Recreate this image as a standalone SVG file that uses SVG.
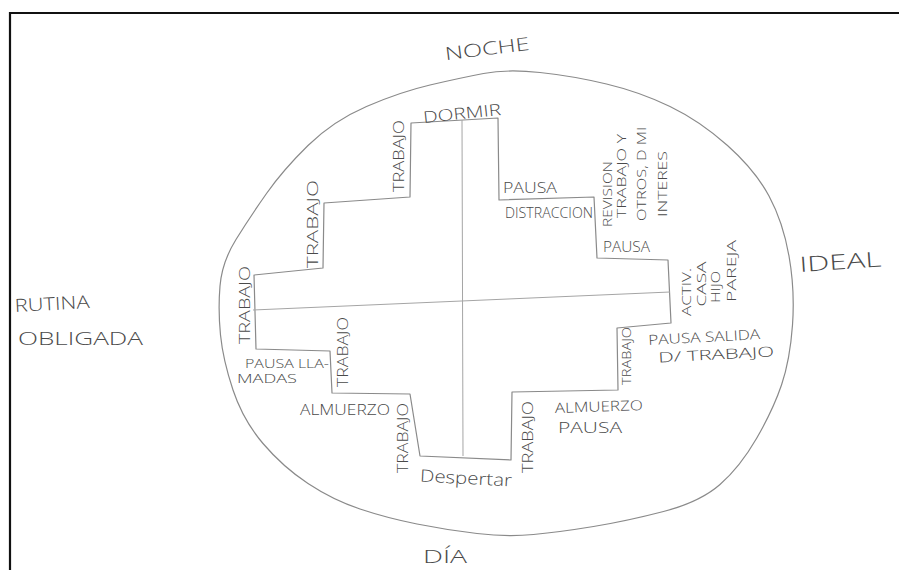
<svg xmlns="http://www.w3.org/2000/svg" width="899" height="570" viewBox="0 0 899 570">
<style>
.frame{fill:none;stroke:#111;stroke-width:2.2}
.ln{fill:none;stroke:#8a8a8a;stroke-width:1.2;stroke-linejoin:round;stroke-linecap:round}
.thin{fill:none;stroke:#a5a5a5;stroke-width:1}
text{font-family:"Open Sans","Liberation Sans",sans-serif;font-weight:300;fill:#4a4a4a}
.h{font-size:14px}
.s{font-size:12px}
.v{font-size:15px;text-anchor:middle;dominant-baseline:central}
.vs{font-size:13px;text-anchor:middle;dominant-baseline:central}
.big{font-size:18px}
</style>
<rect width="899" height="570" fill="#fff"/>
<path class="frame" d="M10,570 L10,13 L899,13"/>
<g id="connectors">
<path id="oval" class="ln" d="M483.5,73.5 Q507,69 540,72.5 Q573,76 606.5,84 Q640,92 670,106.5 Q700,121 727.5,145.5 Q755,170 769,196 Q783,222 789,256 Q795,290 792.5,325 Q790,360 781.5,385 Q773,410 756.5,438.5 Q740,467 720,484.5 Q700,502 663.5,511.5 Q627,521 593.5,526.5 Q560,532 533.5,534.5 Q507,537 477,533.5 Q447,530 417,524 Q387,518 360,509 Q333,500 308,483.5 Q283,467 263,443.5 Q243,420 233,390 Q223,360 220.5,335 Q218,310 220,286 Q222,262 236,239.5 Q250,217 266.5,193.5 Q283,170 308,145.5 Q333,121 366.5,106.5 Q400,92 430,85 Q460,78 483.5,73.5 Z"/>
<path id="cross" class="ln" d="M411,123 L498,118 L499,200 L594,197 L597,258 L668,260 L671,323 L617,328 L618,390 L512,392 L511,460 L420,456 L410,394 L332,393 L330,351 L256,349 L254,275 L323,268 L324,203 L410,197 Z"/>
<path id="axis-v" class="thin" d="M462,120 L463,456"/>
<path id="axis-h" class="thin" d="M253,310 L670,292"/>
</g>
<g id="noche"><text class="big" x="487" y="55" text-anchor="middle" textLength="85" lengthAdjust="spacingAndGlyphs" transform="rotate(-7 487 48)">NOCHE</text></g>
<g id="dia"><text class="big" x="423" y="563" textLength="44" lengthAdjust="spacingAndGlyphs">DÍA</text></g>
<g id="rutina"><text class="big" x="15" y="312" textLength="75" lengthAdjust="spacingAndGlyphs" transform="rotate(-3 15 312)">RUTINA</text><text style="font-size:19px" x="18" y="345" textLength="125" lengthAdjust="spacingAndGlyphs">OBLIGADA</text></g>
<g id="ideal"><text style="font-size:21px" x="800" y="272" textLength="82" lengthAdjust="spacingAndGlyphs" transform="rotate(-4 800 272)">IDEAL</text></g>
<g id="dormir"><text style="font-size:16px" x="462" y="119" text-anchor="middle" textLength="78" lengthAdjust="spacingAndGlyphs" transform="rotate(-6 462 113)">DORMIR</text></g>
<g id="despertar"><text style="font-size:17px" x="466" y="484" text-anchor="middle" textLength="92" lengthAdjust="spacingAndGlyphs" transform="rotate(3 466 478)">Despertar</text></g>
<g id="trabajo-1"><text class="v" transform="translate(398,156) rotate(-90)" textLength="72" lengthAdjust="spacingAndGlyphs">TRABAJO</text></g>
<g id="trabajo-2"><text class="v" transform="translate(312,224) rotate(-90)" textLength="88" lengthAdjust="spacingAndGlyphs">TRABAJO</text></g>
<g id="trabajo-3"><text class="v" transform="translate(244,305) rotate(-90)" textLength="78" lengthAdjust="spacingAndGlyphs">TRABAJO</text></g>
<g id="trabajo-4"><text class="v" transform="translate(342,352) rotate(-90)" textLength="70" lengthAdjust="spacingAndGlyphs">TRABAJO</text></g>
<g id="trabajo-5"><text class="v" transform="translate(402,438) rotate(-90)" textLength="70" lengthAdjust="spacingAndGlyphs">TRABAJO</text></g>
<g id="trabajo-6"><text class="v" transform="translate(527,437) rotate(-90)" textLength="72" lengthAdjust="spacingAndGlyphs">TRABAJO</text></g>
<g id="trabajo-7"><text class="vs" transform="translate(626,356) rotate(-90)" textLength="58" lengthAdjust="spacingAndGlyphs">TRABAJO</text></g>
<g id="pausa-llamadas"><text class="s" x="245" y="368" textLength="84" lengthAdjust="spacingAndGlyphs">PAUSA LLA-</text><text class="s" x="237" y="383" textLength="60" lengthAdjust="spacingAndGlyphs">MADAS</text></g>
<g id="almuerzo-1"><text class="h" x="300" y="415" textLength="90" lengthAdjust="spacingAndGlyphs">ALMUERZO</text></g>
<g id="almuerzo-pausa"><text class="h" x="555" y="413" textLength="88" lengthAdjust="spacingAndGlyphs" transform="rotate(-2 555 413)">ALMUERZO</text><text class="h" x="558" y="433" textLength="64" lengthAdjust="spacingAndGlyphs">PAUSA</text></g>
<g id="pausa-salida"><text class="h" x="648" y="342" textLength="112" lengthAdjust="spacingAndGlyphs" transform="rotate(-3 704 334)">PAUSA SALIDA</text><text class="h" x="657" y="360" textLength="116" lengthAdjust="spacingAndGlyphs" transform="rotate(-3 704 334)">D/ TRABAJO</text></g>
<g id="actividades"><text class="vs" transform="translate(686,292) rotate(-90)" textLength="48" lengthAdjust="spacingAndGlyphs">ACTIV.</text><text class="vs" transform="translate(701,284) rotate(-90)" textLength="45" lengthAdjust="spacingAndGlyphs">CASA</text><text class="vs" transform="translate(715,287) rotate(-90)" textLength="32" lengthAdjust="spacingAndGlyphs">HIJO</text><text class="vs" transform="translate(731,271) rotate(-90)" textLength="62" lengthAdjust="spacingAndGlyphs">PAREJA</text></g>
<g id="pausa-distraccion"><text class="h" x="503" y="193" textLength="54" lengthAdjust="spacingAndGlyphs">PAUSA</text><text class="h" x="505" y="218" textLength="88" lengthAdjust="spacingAndGlyphs">DISTRACCION</text></g>
<g id="revision"><text class="vs" transform="translate(607,194) rotate(-90)" textLength="66" lengthAdjust="spacingAndGlyphs">REVISION</text><text class="vs" transform="translate(621,176) rotate(-90)" textLength="84" lengthAdjust="spacingAndGlyphs">TRABAJO Y</text><text class="vs" transform="translate(641,174) rotate(-90)" textLength="94" lengthAdjust="spacingAndGlyphs">OTROS, D MI</text><text class="vs" transform="translate(662,184) rotate(-90)" textLength="66" lengthAdjust="spacingAndGlyphs">INTERES</text></g>
<g id="pausa-2"><text class="h" x="603" y="252" textLength="47" lengthAdjust="spacingAndGlyphs">PAUSA</text></g>
</svg>
